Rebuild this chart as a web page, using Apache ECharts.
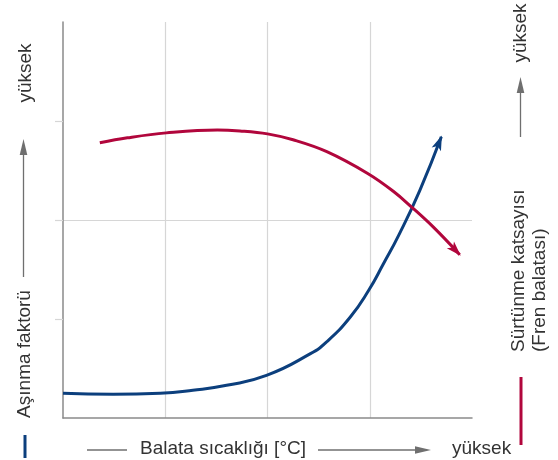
<!DOCTYPE html>
<html><head><meta charset="utf-8">
<script src="https://cdn.jsdelivr.net/npm/echarts@6/dist/echarts.min.js"></script>
<style>html,body{margin:0;padding:0;background:#fff}#c{width:558px;height:460px}</style>
</head><body><div id="c"></div>
<script>
// Wear factor (Aşınma faktorü) – blue
const wearX = [0, 0.49, 0.95, 1.27, 1.60, 1.99, 2.42, 2.58, 2.81, 2.99, 3.13, 3.29, 3.49, 3.70];
const wearY = [0.25, 0.24, 0.25, 0.28, 0.33, 0.43, 0.65, 0.77, 1.02, 1.29, 1.55, 1.86, 2.30, 2.84];
// Friction coefficient (Sürtünme katsayısı) – red
const frictionX = [0.36, 0.63, 1.01, 1.51, 1.73, 2.00, 2.25, 2.58, 2.98, 3.23, 3.41, 3.62, 3.88];
const frictionY = [2.78, 2.83, 2.88, 2.91, 2.90, 2.87, 2.81, 2.69, 2.47, 2.29, 2.13, 1.93, 1.65];
const yTickValues = [1, 2, 3];

const labelLeft = 'Aşınma faktorü';
const labelRight1 = 'Sürtünme katsayısı';
const labelRight2 = '(Fren balatası)';
const labelBottom = 'Balata sıcaklığı [°C]';
const labelHigh = 'yüksek';

const BLUE = '#0c3f7d';
const RED = '#b1063c';
const GRID = '#d6d6d6';
const AXIS = '#8a8a8a';
const TXT = '#333333';
const GRAY = '#6f6f6f';
const FONT = '19px "Liberation Sans", Arial, sans-serif';
const ARROW_LEN = 15, ARROW_W = 10;

const chart = echarts.init(document.getElementById('c'), null, {renderer: 'canvas'});

function textEl(text, x, y, rot, align, fill) {
  return {type: 'text', x: x, y: y, rotation: rot, silent: true,
    style: {text: text, font: FONT, fill: fill || TXT, align: align, verticalAlign: 'middle'}};
}

const graphics = [
  // left side
  {type: 'rect', shape: {x: 23.5, y: 435, width: 3, height: 23}, style: {fill: BLUE}},
  textEl(labelLeft, 25, 354, Math.PI / 2, 'center'),
  {type: 'line', shape: {x1: 23.5, y1: 277, x2: 23.5, y2: 152}, style: {stroke: GRAY, lineWidth: 1.3}},
  {type: 'polygon', shape: {points: [[23.5, 139], [27.3, 155], [19.7, 155]]}, style: {fill: GRAY}},
  textEl(labelHigh, 26, 73, Math.PI / 2, 'center'),
  // right side
  textEl(labelHigh, 521, 33, Math.PI / 2, 'center'),
  {type: 'line', shape: {x1: 520.5, y1: 137, x2: 520.5, y2: 90}, style: {stroke: GRAY, lineWidth: 1.3}},
  {type: 'polygon', shape: {points: [[520.5, 77], [524.3, 93], [516.7, 93]]}, style: {fill: GRAY}},
  textEl(labelRight1, 519, 352, Math.PI / 2, 'left'),
  textEl(labelRight2, 540, 352, Math.PI / 2, 'left'),
  {type: 'rect', shape: {x: 519.5, y: 377, width: 3, height: 68}, style: {fill: RED}},
  // bottom
  {type: 'line', shape: {x1: 87, y1: 450, x2: 127, y2: 450}, style: {stroke: GRAY, lineWidth: 1.3}},
  textEl(labelBottom, 140, 449, 0, 'left'),
  {type: 'line', shape: {x1: 318, y1: 450, x2: 418, y2: 450}, style: {stroke: GRAY, lineWidth: 1.3}},
  {type: 'polygon', shape: {points: [[431, 450], [415, 446.3], [415, 453.7]]}, style: {fill: GRAY}},
  textEl(labelHigh, 452, 449, 0, 'left')
];

const axisCommon = {
  type: 'value', min: 0, max: 4, interval: 1,
  axisLabel: {show: false},
  axisLine: {show: true, lineStyle: {color: AXIS, width: 1.5}},
  splitLine: {show: true, showMinLine: false, showMaxLine: false, lineStyle: {color: GRID, width: 1.2}}
};

function pairs(xs, ys) { return xs.map((x, i) => [x, ys[i]]); }

const option = {
  animation: false,
  grid: {left: 63, top: 22, right: 86, bottom: 42, containLabel: false},
  xAxis: Object.assign({}, axisCommon, {axisTick: {show: false}}),
  yAxis: Object.assign({}, axisCommon, {
    axisTick: {show: true, customValues: yTickValues, length: 8, lineStyle: {color: GRID, width: 1.2}}
  }),
  series: [
    {type: 'line', name: labelLeft, smooth: 0.5, symbol: 'none', showSymbol: false,
     lineStyle: {color: BLUE, width: 3}, clip: false, data: pairs(wearX, wearY)},
    {type: 'line', name: labelRight1, smooth: 0.4, symbol: 'none', showSymbol: false,
     lineStyle: {color: RED, width: 3}, clip: false, data: pairs(frictionX, frictionY)}
  ]
};
chart.setOption(option);

// arrowheads at the curve ends, positioned through the chart's own coordinate conversion
function arrowHead(xs, ys, si, color) {
  const n = xs.length;
  const p1 = chart.convertToPixel({seriesIndex: si}, [xs[n - 2], ys[n - 2]]);
  const p2 = chart.convertToPixel({seriesIndex: si}, [xs[n - 1], ys[n - 1]]);
  const dx = p2[0] - p1[0], dy = p2[1] - p1[1];
  const len = Math.hypot(dx, dy);
  const ux = dx / len, uy = dy / len;
  const nx = -uy, ny = ux;
  const tip = [p2[0] + ux * 1.5, p2[1] + uy * 1.5];
  const base = [tip[0] - ux * ARROW_LEN, tip[1] - uy * ARROW_LEN];
  const notch = [tip[0] - ux * ARROW_LEN * 0.75, tip[1] - uy * ARROW_LEN * 0.75];
  return {type: 'polygon', silent: true, z: 10,
    shape: {points: [tip,
      [base[0] + nx * ARROW_W / 2, base[1] + ny * ARROW_W / 2],
      notch,
      [base[0] - nx * ARROW_W / 2, base[1] - ny * ARROW_W / 2]]},
    style: {fill: color}};
}

chart.setOption({graphic: graphics.concat([
  arrowHead(wearX, wearY, 0, BLUE),
  arrowHead(frictionX, frictionY, 1, RED)
])});
</script>
</body></html>
